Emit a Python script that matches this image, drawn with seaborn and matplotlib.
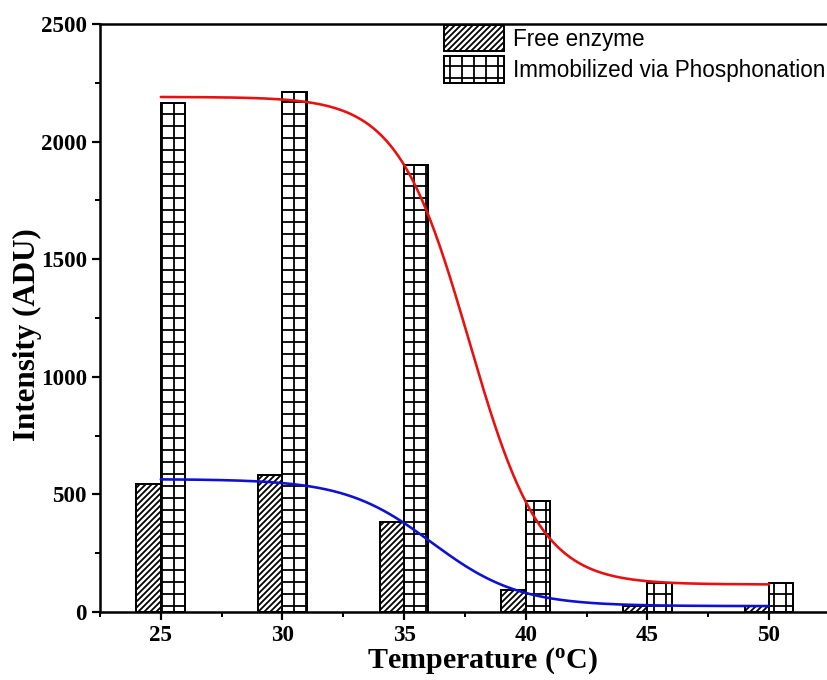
import numpy as np
import pandas as pd
import matplotlib
matplotlib.use("Agg")
import matplotlib.pyplot as plt
from matplotlib.patches import Patch
from matplotlib.ticker import MultipleLocator
import seaborn as sns

# Measured intensities at each incubation temperature
temperature = [25, 30, 35, 40, 45, 50]
free_enzyme = [544, 582, 383, 94, 25, 25]
immobilized = [2164, 2211, 1900, 472, 123, 123]
series_names = ["Free enzyme", "Immobilized via Phosphonation"]

# Boltzmann sigmoid fits: (A1, A2, x0, dx)
free_fit = (565, 25, 36.14, 1.79)
immob_fit = (2190, 117, 37.67, 1.468)


def boltzmann(x, a1, a2, x0, dx):
    return a2 + (a1 - a2) / (1.0 + np.exp((x - x0) / dx))


sns.set_style("ticks")
plt.rcParams["font.family"] = ["Liberation Serif", "DejaVu Serif"]
plt.rcParams["font.weight"] = "bold"
for key in ["text.color", "axes.labelcolor", "xtick.color", "ytick.color",
            "axes.edgecolor"]:
    plt.rcParams[key] = "black"
plt.rcParams["hatch.linewidth"] = 1.8
plt.rcParams["mathtext.fontset"] = "custom"
plt.rcParams["mathtext.rm"] = "Liberation Serif:bold"
plt.rcParams["mathtext.it"] = "Liberation Serif:bold"
plt.rcParams["mathtext.bf"] = "Liberation Serif:bold"

DPI = 72
W, H = 827, 680
fig = plt.figure(figsize=(W / DPI, H / DPI), dpi=DPI)
ax = fig.add_axes([100 / W, 68 / H, 727 / W, 588 / H])

df = pd.DataFrame({
    "Temperature": temperature * 2,
    "Intensity": free_enzyme + immobilized,
    "Sample": [series_names[0]] * len(temperature) + [series_names[1]] * len(temperature),
})

sns.barplot(data=df, x="Temperature", y="Intensity", hue="Sample",
            hue_order=series_names, native_scale=True, width=0.4,
            palette=["white", "white"], saturation=1, edgecolor="black",
            linewidth=2, errorbar=None, legend=False, ax=ax)

hatches = ["////", "+"]
for container, hatch in zip(ax.containers, hatches):
    for bar in container:
        bar.set_hatch(hatch)

# Fitted thermal-stability curves
t_fine = np.linspace(temperature[0], temperature[-1], 400)
sns.lineplot(x=t_fine, y=boltzmann(t_fine, *free_fit), color="#1010d0",
             linewidth=2.6, ax=ax, zorder=5)
sns.lineplot(x=t_fine, y=boltzmann(t_fine, *immob_fit), color="#e81010",
             linewidth=2.6, ax=ax, zorder=5)

ax.set_xlim(22.5, 52.385)
ax.set_ylim(0, 2500)
ax.set_xticks(temperature)
ax.set_xticklabels([str(t) for t in temperature])
ax.xaxis.set_minor_locator(MultipleLocator(2.5))
ax.set_yticks(np.arange(0, 2501, 500))
ax.yaxis.set_minor_locator(MultipleLocator(250))

ax.tick_params(which="major", direction="out", length=8, width=2.2,
               labelsize=23, pad=5, colors="black")
ax.tick_params(which="minor", direction="out", length=5, width=2,
               colors="black")
for lab in ax.get_xticklabels() + ax.get_yticklabels():
    lab.set_fontweight("bold")

for side in ["left", "bottom", "top"]:
    ax.spines[side].set_visible(True)
    ax.spines[side].set_linewidth(2.5)
    ax.spines[side].set_color("black")
ax.spines["right"].set_visible(False)

ax.set_xlabel(r"Temperature ($^{\mathrm{o}}$C)", fontsize=30,
              fontweight="bold")
ax.xaxis.set_label_coords((483 - 100) / 727, -(668 - 612) / 588,
                          transform=ax.transAxes)
ax.xaxis.label.set_va("baseline")
ax.set_ylabel("Intensity (ADU)", fontsize=31, fontweight="bold")
ax.yaxis.set_label_coords(-(100 - 27) / 727, (612 - 335) / 588)
ax.yaxis.label.set_va("center")

handles = [Patch(facecolor="white", edgecolor="black", hatch=h, linewidth=2)
           for h in hatches]
ax.legend(handles, series_names, loc="upper left",
          bbox_to_anchor=((443 - 100) / 727, 1.0), frameon=False,
          prop={"family": "Liberation Sans", "size": 22.5, "weight": "normal"},
          handlelength=2.67, handleheight=1.42, labelspacing=0.22,
          handletextpad=0.4, borderpad=0.05, borderaxespad=0)

fig.savefig("out.png", dpi=DPI, facecolor="white")
